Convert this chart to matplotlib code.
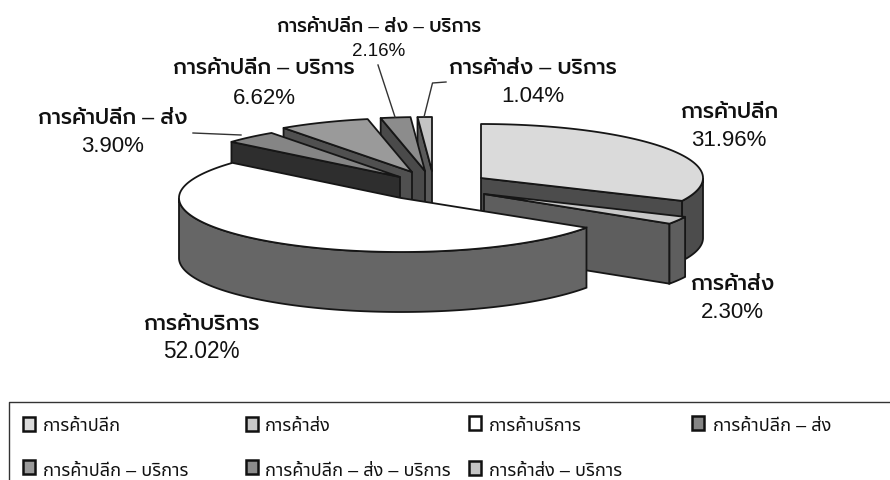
import numpy as np
import matplotlib
matplotlib.use('Agg')
import matplotlib.pyplot as plt
from matplotlib.patches import Polygon, Rectangle

categories = ['การค้าปลีก', 'การค้าส่ง', 'การค้าบริการ', 'การค้าปลีก – ส่ง',
              'การค้าปลีก – บริการ', 'การค้าปลีก – ส่ง – บริการ', 'การค้าส่ง – บริการ']
values = [31.96, 2.30, 52.02, 3.90, 6.62, 2.16, 1.04]
value_labels = ['31.96%', '2.30%', '52.02%', '3.90%', '6.62%', '2.16%', '1.04%']

# layout (pixels)
RX, RY, DEPTH = 222, 54, 60
apex = [(481, 178), (484, 194), (401, 198), (400, 177), (412, 172), (425, 171), (432, 171)]
top_col = ['#dadada', '#c8c8c8', '#ffffff', '#858585', '#9a9a9a', '#8c8c8c', '#c4c4c4']
side_col = ['#4c4c4c', '#5e5e5e', '#666666', '#2e2e2e', '#505050', '#4a4a4a', '#5a5a5a']
label_xy = [(729, 112, 140), (732, 284, 313), (201, 324, 352), (113, 118, 146),
            (264, 69, 98), (379, 27, 51), (533, 69, 97)]
label_fs = [15.5, 15.5, 15.5, 15.5, 15.5, 13.6, 15.5]
value_fs = [16, 16, 16.3, 16, 16, 13.5, 16]
leaders = [([193, 241], [133, 135]), ([378, 395], [65, 117]), ([446, 432.5, 424], [82, 83, 117])]
legend_box = [(28.5, 424), (251.5, 424), (475, 423), (698, 423), (28.5, 467), (251.5, 467), (475, 468)]
legend_text_x = [43, 265, 489, 713, 43, 265, 489]
legend_base = [431, 431, 431, 431, 476, 476, 476]
legend_fs = 13
LABEL_FONT = ['Liberation Sans', 'Prompt']
LEGEND_FONT = ['Liberation Sans', 'Noto Sans Thai']

fig = plt.figure(figsize=(8.9, 4.8), dpi=100)
ax = fig.add_axes([0, 0, 1, 1])
ax.set_xlim(0, 890)
ax.set_ylim(480, 0)
ax.axis('off')

def rim(c, t0, t1):
    t = np.radians(np.linspace(t0, t1, max(int(abs(t1 - t0)) * 2, 2)))
    return np.column_stack([c[0] + RX * np.sin(t), c[1] - RY * np.cos(t)])

EC = '#161616'
edges = np.concatenate([[0], np.cumsum(values)]) * 3.6
slices = [(i, edges[i], edges[i + 1]) for i in range(len(values))]
for i, t0, t1 in [slices[k] for k in (6, 5, 4, 3, 0, 1, 2)]:
    c = np.array(apex[i], float)
    down = np.array([0, DEPTH])
    # radial cut faces that look toward the viewer
    faces = []
    if t0 >= 180:
        faces.append(t0)
    if t1 <= 180:
        faces.append(t1)
    for t in faces:
        p = rim(c, t, t + 0.001)[0]
        ax.add_patch(Polygon([c, p, p + down, c + down], fc=side_col[i], ec=EC, lw=1.3, joinstyle='round'))
    # outer wall, only the part turned to the viewer
    a, b = max(t0, 90), min(t1, 270)
    if b > a:
        r = rim(c, a, b)
        ax.add_patch(Polygon(np.vstack([r, (r + down)[::-1]]), fc=side_col[i], ec=EC, lw=1.3))
    # top
    ax.add_patch(Polygon(np.vstack([c, rim(c, t0, t1)]), fc=top_col[i], ec=EC, lw=1.3, joinstyle='round'))

for xs, ys in leaders:
    ax.plot(xs, ys, color='#333333', lw=1)

for i, (name, val, (x, y1, y2)) in enumerate(zip(categories, value_labels, label_xy)):
    ax.text(x, y1, name, ha='center', va='center', fontsize=label_fs[i], family=LABEL_FONT, weight=500, color='#111111')
    ax.text(x, y2, val, ha='center', va='center', fontsize=value_fs[i], family=LABEL_FONT, color='#111111')

# legend frame
ax.plot([9, 9, 890], [480, 402, 402], color='#333333', lw=1)
for i, name in enumerate(categories):
    x, y = legend_box[i]
    ax.add_patch(Rectangle((x - 6, y - 7), 12, 14, fc=top_col[i], ec='#111111', lw=1.8))
    ax.text(legend_text_x[i], legend_base[i], name, ha='left', va='baseline', fontsize=legend_fs, family=LEGEND_FONT, color='#111111')

fig.savefig('out.png', dpi=100)
